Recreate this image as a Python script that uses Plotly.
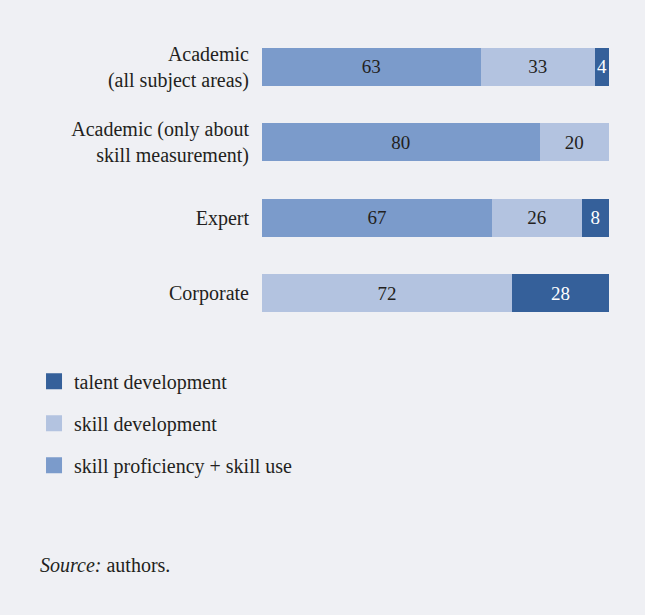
import plotly.graph_objects as go

categories = ["Academic<br>(all subject areas)", "Academic (only about<br>skill measurement)", "Expert", "Corporate"]
proficiency = [63, 80, 67, 0]
skill_dev = [33, 20, 26, 72]
talent = [4, 0, 8, 28]

series = [
    ("skill proficiency + skill use", proficiency, "#7b9bcb", "#231f20"),
    ("skill development", skill_dev, "#b3c3e0", "#231f20"),
    ("talent development", talent, "#35609a", "#ffffff"),
]

BG = "#eff0f4"
FONT = "Liberation Serif"

fig = go.Figure()
for name, vals, color, tcolor in series:
    fig.add_trace(go.Bar(
        y=categories, x=vals, orientation="h", name=name,
        marker=dict(color=color, line=dict(width=0)),
        text=[str(v) if v else "" for v in vals],
        textposition="inside", insidetextanchor="middle", textangle=0,
        constraintext="none",
        textfont=dict(family=FONT, size=19, color=tcolor),
        showlegend=False, hoverinfo="skip",
    ))

for name, vals, color, tcolor in reversed(series):
    fig.add_trace(go.Scatter(
        x=[None], y=[None], mode="markers", name=name,
        marker=dict(symbol="square", size=16, color=color, line=dict(width=0)),
        legendgroup=name,
    ))

fig.update_layout(
    width=645, height=615,
    margin=dict(l=262, r=36, t=29, b=284),
    paper_bgcolor=BG, plot_bgcolor=BG,
    barmode="stack", barnorm="percent", bargap=0.5,
    font=dict(family=FONT, size=20, color="#231f20"),
    xaxis=dict(visible=False, range=[0, 100], fixedrange=True),
    yaxis=dict(autorange="reversed", showline=False, showgrid=False, zeroline=False,
               ticks="", ticklabelstandoff=12, tickfont=dict(family=FONT, size=20, color="#231f20")),
    showlegend=True,
    legend=dict(x=-0.657, xanchor="left", y=-0.102, yanchor="top",
                bgcolor="rgba(0,0,0,0)", traceorder="grouped", tracegroupgap=13,
                font=dict(family=FONT, size=20, color="#231f20"), itemsizing="trace"),
    annotations=[dict(
        text="<i>Source:</i> authors.", xref="paper", yref="paper",
        x=-0.6455, y=-0.775, xanchor="left", yanchor="middle", showarrow=False,
        font=dict(family=FONT, size=20, color="#231f20"),
    )],
)

fig.write_html("out.html")
